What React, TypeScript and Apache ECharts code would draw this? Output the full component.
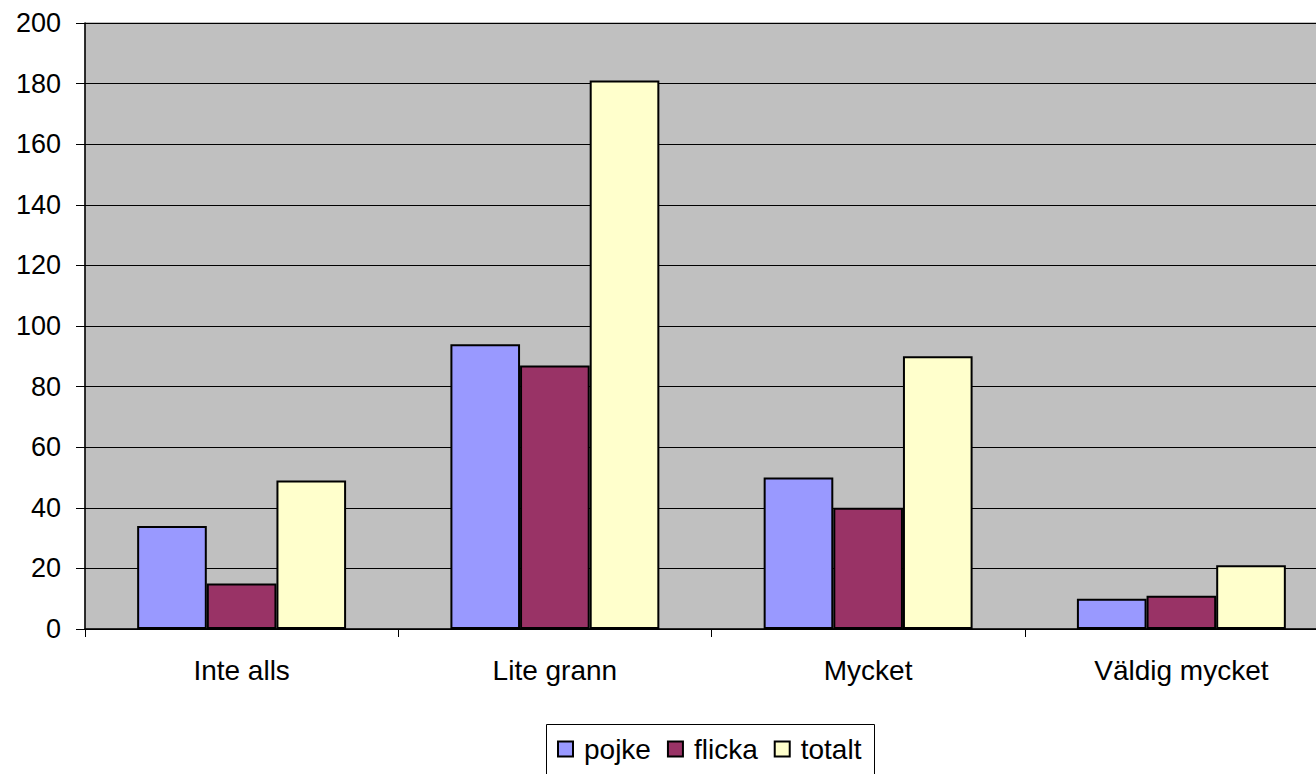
import React, { useEffect, useRef } from "react";
import * as echarts from "echarts";

const categories = ["Inte alls", "Lite grann", "Mycket", "Väldig mycket"];
const pojke = [34, 94, 50, 10];
const flicka = [15, 87, 40, 11];
const totalt = [49, 181, 90, 21];
const seriesNames = ["pojke", "flicka", "totalt"];
const colors = ["#9999FF", "#993366", "#FFFFCC"];

export default function App() {
  const ref = useRef<HTMLDivElement>(null);
  useEffect(() => {
    document.body.style.margin = "0";
    const chart = echarts.init(ref.current!, null, { renderer: "svg" });
    const font = "'Liberation Sans', Arial, sans-serif";
    const barStyle = (c: string) => ({ color: c, borderColor: "#000", borderWidth: 2 });
    chart.setOption({
      animation: false,
      textStyle: { fontFamily: font },
      grid: {
        left: 85,
        top: 23,
        bottom: 145,
        right: 0,
        show: true,
        backgroundColor: "#C0C0C0",
        borderColor: "#808080",
        borderWidth: 1,
      },
      xAxis: {
        type: "category",
        data: categories,
        axisLine: { lineStyle: { color: "#000", width: 1.5 } },
        axisTick: { show: true, length: 8, lineStyle: { color: "#000", width: 1 } },
        axisLabel: { fontSize: 28, color: "#000", margin: 27, fontFamily: font },
      },
      yAxis: {
        type: "value",
        min: 0,
        max: 200,
        interval: 20,
        axisLine: { show: true, lineStyle: { color: "#000", width: 1.5 } },
        axisTick: { show: true, length: 9, lineStyle: { color: "#000", width: 1 } },
        axisLabel: { fontSize: 27, color: "#000", margin: 24, fontFamily: font },
        splitLine: { lineStyle: { color: "#000", width: 1 } },
      },
      legend: {
        left: 557,
        top: 735,
        padding: 0,
        itemWidth: 15,
        itemHeight: 15,
        itemGap: 16,
        icon: "rect",
        textStyle: { fontSize: 28, color: "#000", padding: [0, 0, 0, 6], fontFamily: font },
        data: seriesNames,
      },
      graphic: [
        {
          type: "rect",
          shape: { x: 546.5, y: 724.5, width: 328, height: 70 },
          style: { fill: "none", stroke: "#000", lineWidth: 1 },
          silent: true,
        },
      ],
      series: [
        { name: seriesNames[0], type: "bar", data: pojke, barGap: "0%", barCategoryGap: "33.3%", itemStyle: barStyle(colors[0]) },
        { name: seriesNames[1], type: "bar", data: flicka, barGap: "0%", barCategoryGap: "33.3%", itemStyle: barStyle(colors[1]) },
        { name: seriesNames[2], type: "bar", data: totalt, barGap: "0%", barCategoryGap: "33.3%", itemStyle: barStyle(colors[2]) },
      ],
    });
    return () => chart.dispose();
  }, []);
  return (
    <div style={{ width: 1316, height: 774, overflow: "hidden", position: "relative" }}>
      <div ref={ref} style={{ width: 1338, height: 774, position: "absolute", left: 0, top: 0 }} />
    </div>
  );
}
